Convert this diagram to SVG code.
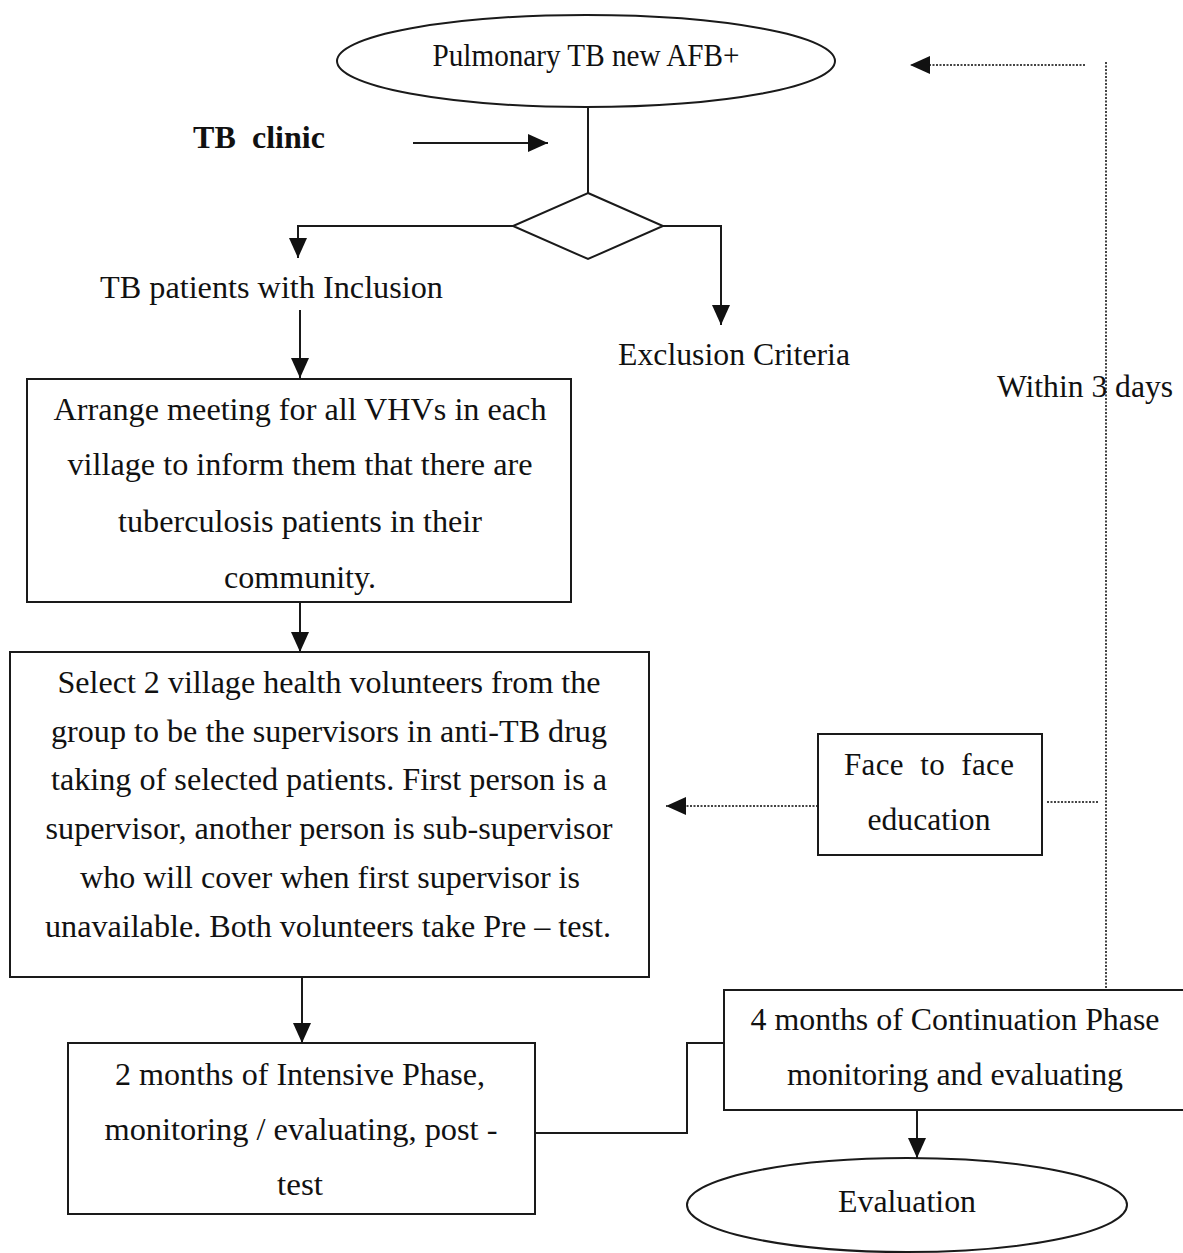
<svg xmlns="http://www.w3.org/2000/svg" width="1183" height="1253" viewBox="0 0 1183 1253">
<style>
.shape{fill:#fff;stroke:#1a1a1a;stroke-width:2}
.line{fill:none;stroke:#1a1a1a;stroke-width:2}
.dot{fill:none;stroke:#444;stroke-width:2;stroke-dasharray:2,1.5}
.t{font-family:"Liberation Serif","Times New Roman",serif;font-size:31px;fill:#111;text-anchor:middle}
.b{font-weight:bold;text-anchor:start;font-size:32px}
</style>
<defs>
<marker id="ah" markerUnits="userSpaceOnUse" markerWidth="22" markerHeight="20" refX="20" refY="9" orient="auto">
<path d="M0,0 L20,9 L0,18 z" fill="#111"/>
</marker>
</defs>
<rect width="1183" height="1253" fill="#fff"/>
<g id="connectors">
<line class="line" x1="588" y1="107" x2="588" y2="193"/>
<line class="line" x1="413" y1="143" x2="548" y2="143" marker-end="url(#ah)"/>
<polyline class="line" points="513,226 298,226 298,258" marker-end="url(#ah)"/>
<polyline class="line" points="663,226 721,226 721,325" marker-end="url(#ah)"/>
<line class="line" x1="300" y1="310" x2="300" y2="378" marker-end="url(#ah)"/>
<line class="line" x1="300" y1="602" x2="300" y2="652" marker-end="url(#ah)"/>
<line class="line" x1="302" y1="977" x2="302" y2="1043" marker-end="url(#ah)"/>
<polyline class="line" points="535,1133 687,1133 687,1043 724,1043"/>
<line class="line" x1="917" y1="1110" x2="917" y2="1158" marker-end="url(#ah)"/>
<line class="dot" x1="818" y1="806" x2="666" y2="806" marker-end="url(#ah)"/>
<line class="dot" x1="1047" y1="802" x2="1099" y2="802"/>
<line class="dot" x1="1106" y1="62" x2="1106" y2="990"/>
<line class="dot" x1="1085" y1="65" x2="910" y2="65" marker-end="url(#ah)"/>
</g>
<g id="start">
<ellipse class="shape" cx="586" cy="61" rx="249" ry="46"/>
<text class="t" x="586" y="66" textLength="307" lengthAdjust="spacingAndGlyphs">Pulmonary TB new AFB+</text>
</g>
<g id="tbclinic">
<text class="t b" x="193" y="148" textLength="132" lengthAdjust="spacing" xml:space="preserve">TB  clinic</text>
</g>
<g id="decision">
<polygon class="shape" points="588,193 663,226 588,259 513,226"/>
</g>
<g id="inclusion">
<text class="t" x="271.5" y="298" textLength="343" lengthAdjust="spacingAndGlyphs">TB patients with Inclusion</text>
</g>
<g id="exclusion">
<text class="t" x="734" y="365" textLength="232" lengthAdjust="spacingAndGlyphs">Exclusion Criteria</text>
</g>
<g id="within">
<text class="t" x="1085" y="397" textLength="176" lengthAdjust="spacingAndGlyphs">Within 3 days</text>
</g>
<g id="meeting">
<rect class="shape" x="27" y="379" width="544" height="223"/>
<text class="t" x="300" y="420" textLength="493" lengthAdjust="spacingAndGlyphs">Arrange meeting for all VHVs in each</text>
<text class="t" x="300" y="475" textLength="465" lengthAdjust="spacingAndGlyphs">village to inform them that there are</text>
<text class="t" x="300" y="532" textLength="364" lengthAdjust="spacingAndGlyphs">tuberculosis patients in their</text>
<text class="t" x="300" y="588" textLength="152" lengthAdjust="spacingAndGlyphs">community.</text>
</g>
<g id="select">
<rect class="shape" x="10" y="652" width="639" height="325"/>
<text class="t" x="329" y="693" textLength="543" lengthAdjust="spacingAndGlyphs">Select 2 village health volunteers from the</text>
<text class="t" x="329" y="742" textLength="556" lengthAdjust="spacingAndGlyphs">group to be the supervisors in anti-TB drug</text>
<text class="t" x="329" y="790" textLength="556" lengthAdjust="spacingAndGlyphs">taking of selected patients. First person is a</text>
<text class="t" x="329" y="839" textLength="567" lengthAdjust="spacingAndGlyphs">supervisor, another person is sub-supervisor</text>
<text class="t" x="330" y="888" textLength="500" lengthAdjust="spacingAndGlyphs">who will cover when first supervisor is</text>
<text class="t" x="328" y="937" textLength="566" lengthAdjust="spacingAndGlyphs">unavailable. Both volunteers take Pre – test.</text>
</g>
<g id="face">
<rect class="shape" x="818" y="734" width="224" height="121"/>
<text class="t" x="929" y="775" textLength="170" lengthAdjust="spacing" xml:space="preserve">Face  to  face</text>
<text class="t" x="929" y="830" textLength="123" lengthAdjust="spacingAndGlyphs">education</text>
</g>
<g id="intensive">
<rect class="shape" x="68" y="1043" width="467" height="171"/>
<text class="t" x="300" y="1085" textLength="370" lengthAdjust="spacingAndGlyphs">2 months of Intensive Phase,</text>
<text class="t" x="301" y="1140" textLength="393" lengthAdjust="spacingAndGlyphs">monitoring / evaluating, post -</text>
<text class="t" x="300" y="1195" textLength="46" lengthAdjust="spacingAndGlyphs">test</text>
</g>
<g id="continuation">
<rect class="shape" x="724" y="990" width="470" height="120"/>
<text class="t" x="955" y="1030" textLength="409" lengthAdjust="spacingAndGlyphs">4 months of Continuation Phase</text>
<text class="t" x="955" y="1085" textLength="336" lengthAdjust="spacingAndGlyphs">monitoring and evaluating</text>
</g>
<g id="evaluation">
<ellipse class="shape" cx="907" cy="1205" rx="220" ry="47"/>
<text class="t" x="907" y="1212" textLength="138" lengthAdjust="spacingAndGlyphs">Evaluation</text>
</g>
</svg>
